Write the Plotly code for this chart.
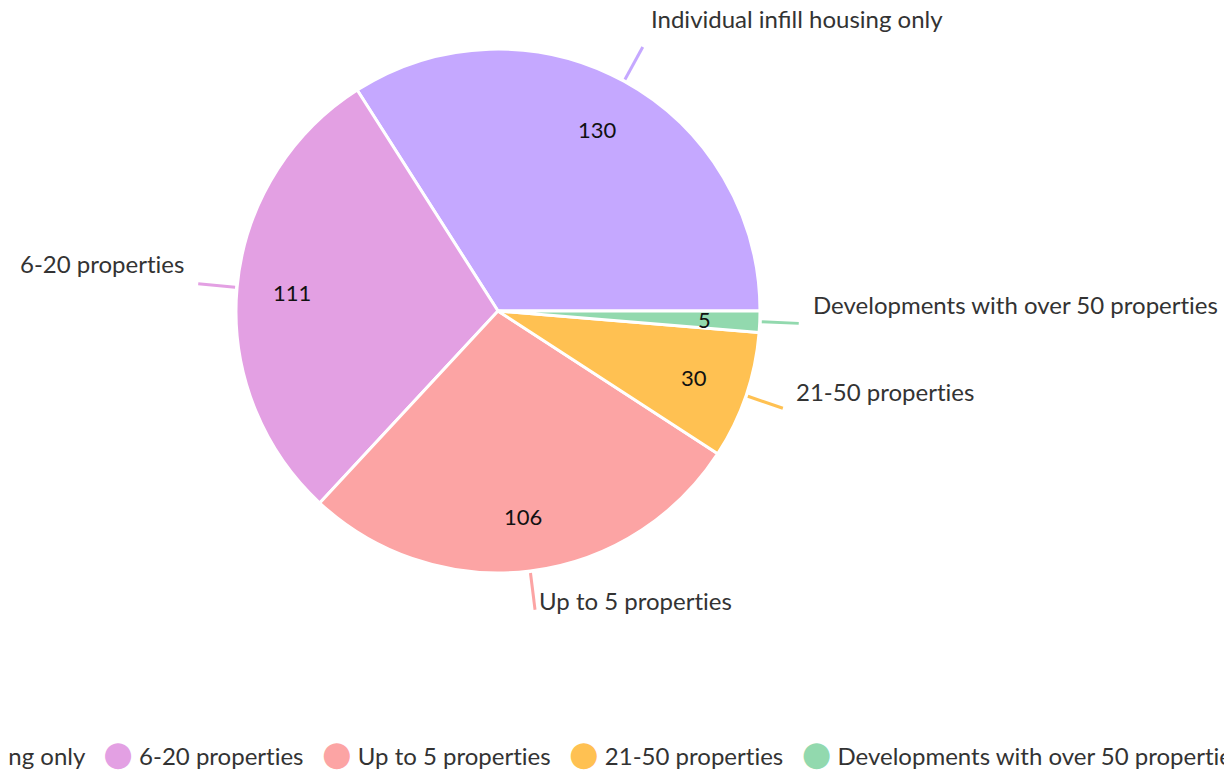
import math
import plotly.graph_objects as go

labels = ["Individual infill housing only", "6-20 properties", "Up to 5 properties",
          "21-50 properties", "Developments with over 50 properties"]
values = [130, 111, 106, 30, 5]
colors = ["#c5a8ff", "#e3a0e3", "#fca4a4", "#ffc152", "#92d9ae"]

W, H = 1232, 770
OFF = 8  # page body margin: figure is drawn 8px right/down in the window
CX, CY, R = 498 - OFF, 311 - OFF, 262
FONT = "Lato"
TEXT = "#333333"

total = sum(values)
first_deg = 360.0 * values[0] / total

fig = go.Figure()
fig.add_trace(go.Pie(
    labels=labels, values=values, sort=False, direction="counterclockwise",
    rotation=90 - first_deg, textinfo="none", hoverinfo="label+value",
    marker=dict(colors=colors, line=dict(color="white", width=3)),
    domain=dict(x=[(CX - R) / W, (CX + R) / W], y=[1 - (CY + R) / H, 1 - (CY - R) / H]),
    showlegend=False,
))


def px(x):
    return x / W


def py(y):
    return 1 - y / H


def nolig(t):
    # avoid the Lato "ti" ligature
    return t.replace("ti", "t\u200ci")


start = 0.0
annotations = []
shapes = []
for lab, val, col in zip(labels, values, colors):
    span = 360.0 * val / total
    mid = math.radians(start + span / 2)
    start += span
    c, s = math.cos(mid), math.sin(mid)
    # inside value
    ri = 0.79 * R
    annotations.append(dict(x=px(CX + ri * c), y=py(CY - ri * s), xref="paper", yref="paper",
                            text=str(val), showarrow=False, xanchor="center", yanchor="middle",
                            font=dict(family=FONT, size=22, color="#111111")))
    # leader line
    r1, r2 = R + 2, R + 39
    x1, y1 = CX + r2 * c, CY - r2 * s
    shapes.append(dict(type="line", xref="paper", yref="paper",
                       x0=px(CX + r1 * c), y0=py(CY - r1 * s), x1=px(x1), y1=py(y1),
                       line=dict(color=col, width=3)))
    annotations.append(dict(x=px(x1), y=py(y1), xref="paper", yref="paper",
                            text=nolig(lab), showarrow=False,
                            xanchor="left" if c > 0 else "right", yanchor="bottom",
                            xshift=12 * c, yshift=3 + 10 * s,
                            font=dict(family=FONT, size=24, color=TEXT)))

# legend as a single line centred on the pie
gap = "\u00a0" * 3
parts = []
for lab, col in zip(labels, colors):
    parts.append(f"<span style='color:{col};font-size:34px;font-family:DejaVu Sans'>●</span>"
                 f"\u00a0{nolig(lab)}")
annotations.append(dict(x=px(CX + 2), y=py(755 - OFF - 2), xref="paper", yref="paper",
                        text=gap.join(parts), showarrow=False, xanchor="center", yanchor="middle",
                        font=dict(family=FONT, size=24, color=TEXT)))

fig.update_layout(
    width=W, height=H, margin=dict(l=0, r=0, t=0, b=0),
    paper_bgcolor="white", plot_bgcolor="white",
    annotations=annotations, shapes=shapes,
)
fig.write_html("out.html")
